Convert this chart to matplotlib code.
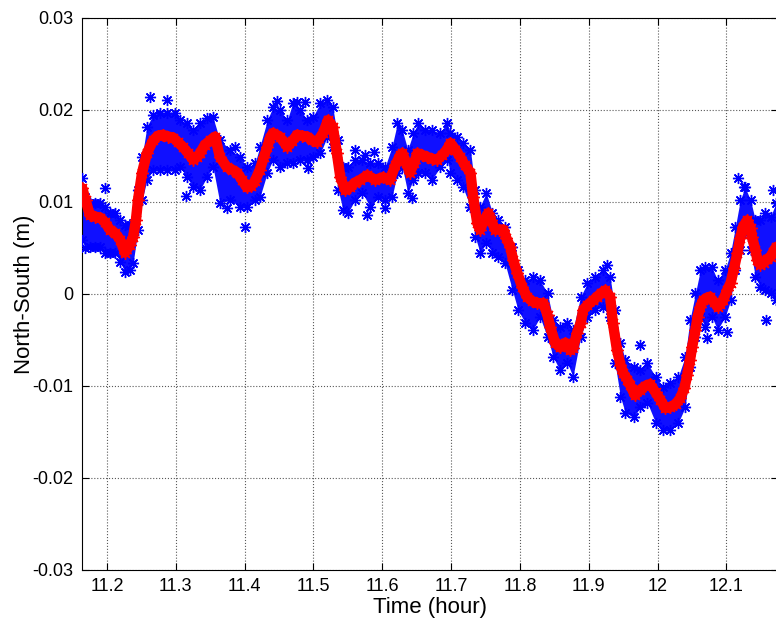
import numpy as np
import matplotlib
matplotlib.use('Agg')
from matplotlib import pyplot as plt

# smoothed north-south series (red), hours / metres
t_red = [11.164, 11.169, 11.175, 11.183, 11.190, 11.197, 11.204, 11.212, 11.219, 11.226,
         11.233, 11.238, 11.242, 11.245, 11.251, 11.258, 11.267, 11.274, 11.281, 11.289,
         11.296, 11.303, 11.310, 11.318, 11.325, 11.331, 11.335, 11.342, 11.350, 11.357,
         11.364, 11.374, 11.382, 11.389, 11.396, 11.403, 11.409, 11.415, 11.422, 11.428,
         11.433, 11.437, 11.441, 11.451, 11.462, 11.469, 11.476, 11.483, 11.491, 11.498,
         11.505, 11.514, 11.521, 11.528, 11.534, 11.539, 11.546, 11.553, 11.560, 11.568,
         11.578, 11.590, 11.601, 11.611, 11.619, 11.626, 11.629, 11.635, 11.640, 11.646,
         11.651, 11.658, 11.665, 11.672, 11.680, 11.687, 11.694, 11.699, 11.706, 11.713,
         11.720, 11.728, 11.732, 11.738, 11.742, 11.748, 11.754, 11.758, 11.764, 11.770,
         11.776, 11.780, 11.786, 11.790, 11.796, 11.803, 11.810, 11.818, 11.825, 11.834,
         11.840, 11.844, 11.851, 11.858, 11.866, 11.873, 11.877, 11.883, 11.888, 11.892,
         11.898, 11.906, 11.912, 11.918, 11.924, 11.931, 11.935, 11.941, 11.946, 11.950,
         11.956, 11.960, 11.967, 11.975, 11.982, 11.989, 11.997, 12.004, 12.011, 12.018,
         12.026, 12.033, 12.039, 12.043, 12.047, 12.050, 12.055, 12.058, 12.062, 12.066,
         12.072, 12.076, 12.082, 12.087, 12.091, 12.095, 12.101, 12.106, 12.111, 12.116,
         12.120, 12.124, 12.130, 12.135, 12.137, 12.142, 12.145, 12.149, 12.154, 12.159,
         12.164, 12.168, 12.172]
ns_red = [0.0115, 0.0102, 0.0086, 0.0084, 0.0083, 0.0078, 0.0070, 0.0066, 0.0059, 0.0045,
          0.0053, 0.0062, 0.0080, 0.0102, 0.0132, 0.0153, 0.0167, 0.0172, 0.0173, 0.0171,
          0.0170, 0.0165, 0.0160, 0.0153, 0.0146, 0.0149, 0.0153, 0.0162, 0.0167, 0.0171,
          0.0149, 0.0138, 0.0135, 0.0132, 0.0124, 0.0116, 0.0117, 0.0123, 0.0135, 0.0149,
          0.0160, 0.0170, 0.0175, 0.0171, 0.0160, 0.0166, 0.0173, 0.0172, 0.0171, 0.0167,
          0.0165, 0.0175, 0.0189, 0.0182, 0.0153, 0.0127, 0.0113, 0.0116, 0.0121, 0.0124,
          0.0129, 0.0124, 0.0127, 0.0124, 0.0140, 0.0151, 0.0153, 0.0142, 0.0132, 0.0142,
          0.0153, 0.0151, 0.0149, 0.0147, 0.0146, 0.0151, 0.0157, 0.0164, 0.0157, 0.0149,
          0.0140, 0.0132, 0.0105, 0.0077, 0.0070, 0.0080, 0.0088, 0.0080, 0.0070, 0.0070,
          0.0070, 0.0061, 0.0051, 0.0037, 0.0023, 0.0008, -0.0003, -0.0008, -0.0010, -0.0010,
          -0.0023, -0.0036, -0.0053, -0.0058, -0.0053, -0.0061, -0.0059, -0.0042, -0.0032, -0.0017,
          -0.0012, -0.0007, -0.0003, 0.0001, 0.0004, -0.0003, -0.0032, -0.0061, -0.0077, -0.0086,
          -0.0093, -0.0099, -0.0110, -0.0104, -0.0100, -0.0098, -0.0107, -0.0115, -0.0124, -0.0123,
          -0.0120, -0.0113, -0.0102, -0.0088, -0.0072, -0.0058, -0.0039, -0.0025, -0.0014, -0.0007,
          -0.0004, -0.0003, -0.0009, -0.0014, -0.0011, -0.0007, 0.0004, 0.0012, 0.0028, 0.0045,
          0.0061, 0.0073, 0.0080, 0.0072, 0.0062, 0.0048, 0.0037, 0.0032, 0.0034, 0.0038,
          0.0040, 0.0046, 0.0051]

# raw solutions (blue): upper and lower edge of the scatter band
t_blue = [11.164, 11.168, 11.175, 11.183, 11.190, 11.197, 11.204, 11.212, 11.219, 11.226,
          11.233, 11.238, 11.245, 11.251, 11.258, 11.267, 11.277, 11.287, 11.299, 11.306,
          11.316, 11.325, 11.335, 11.345, 11.354, 11.364, 11.379, 11.393, 11.403, 11.415,
          11.422, 11.433, 11.441, 11.451, 11.462, 11.470, 11.481, 11.491, 11.499, 11.510,
          11.520, 11.528, 11.536, 11.543, 11.550, 11.560, 11.571, 11.582, 11.594, 11.604,
          11.614, 11.622, 11.629, 11.637, 11.645, 11.652, 11.662, 11.672, 11.684, 11.694,
          11.699, 11.709, 11.717, 11.728, 11.735, 11.742, 11.751, 11.760, 11.768, 11.778,
          11.789, 11.797, 11.808, 11.819, 11.829, 11.840, 11.848, 11.858, 11.869, 11.877,
          11.888, 11.898, 11.909, 11.921, 11.931, 11.938, 11.946, 11.953, 11.965, 11.975,
          11.985, 11.997, 12.008, 12.018, 12.030, 12.040, 12.047, 12.055, 12.062, 12.069,
          12.079, 12.087, 12.098, 12.106, 12.113, 12.120, 12.127, 12.135, 12.142, 12.149,
          12.156, 12.164, 12.172]
ns_hi = [0.0126, 0.0105, 0.0099, 0.0099, 0.0099, 0.0095, 0.0088, 0.0088, 0.0080, 0.0075,
         0.0075, 0.0077, 0.0113, 0.0149, 0.0182, 0.0195, 0.0197, 0.0197, 0.0197, 0.0189,
         0.0186, 0.0178, 0.0186, 0.0191, 0.0192, 0.0167, 0.0157, 0.0149, 0.0138, 0.0142,
         0.0160, 0.0189, 0.0203, 0.0200, 0.0189, 0.0208, 0.0200, 0.0189, 0.0192, 0.0208,
         0.0211, 0.0203, 0.0167, 0.0138, 0.0138, 0.0146, 0.0146, 0.0142, 0.0142, 0.0138,
         0.0160, 0.0186, 0.0178, 0.0157, 0.0175, 0.0186, 0.0178, 0.0178, 0.0175, 0.0186,
         0.0175, 0.0171, 0.0164, 0.0157, 0.0113, 0.0095, 0.0110, 0.0088, 0.0080, 0.0073,
         0.0051, 0.0026, 0.0015, 0.0018, 0.0015, 0.0001, -0.0028, -0.0036, -0.0032, -0.0039,
         -0.0003, 0.0012, 0.0018, 0.0026, 0.0018, -0.0017, -0.0053, -0.0072, -0.0079, -0.0083,
         -0.0075, -0.0090, -0.0101, -0.0097, -0.0090, -0.0068, -0.0028, 0.0001, 0.0026, 0.0029,
         0.0029, 0.0015, 0.0026, 0.0045, 0.0073, 0.0102, 0.0116, 0.0102, 0.0080, 0.0080,
         0.0088, 0.0084, 0.0099]
ns_lo = [0.0059, 0.0050, 0.0051, 0.0051, 0.0051, 0.0045, 0.0045, 0.0045, 0.0035, 0.0024,
         0.0026, 0.0034, 0.0070, 0.0102, 0.0124, 0.0135, 0.0135, 0.0135, 0.0135, 0.0138,
         0.0127, 0.0116, 0.0113, 0.0127, 0.0138, 0.0099, 0.0102, 0.0095, 0.0095, 0.0102,
         0.0105, 0.0132, 0.0146, 0.0138, 0.0142, 0.0142, 0.0146, 0.0146, 0.0149, 0.0153,
         0.0171, 0.0160, 0.0113, 0.0091, 0.0088, 0.0102, 0.0110, 0.0095, 0.0105, 0.0102,
         0.0105, 0.0132, 0.0138, 0.0110, 0.0124, 0.0132, 0.0132, 0.0124, 0.0138, 0.0146,
         0.0132, 0.0124, 0.0116, 0.0095, 0.0062, 0.0045, 0.0055, 0.0045, 0.0040, 0.0034,
         0.0004, -0.0017, -0.0032, -0.0039, -0.0025, -0.0047, -0.0068, -0.0083, -0.0075, -0.0090,
         -0.0047, -0.0025, -0.0017, -0.0014, -0.0025, -0.0075, -0.0112, -0.0129, -0.0134, -0.0123,
         -0.0118, -0.0140, -0.0148, -0.0148, -0.0140, -0.0123, -0.0079, -0.0047, -0.0025, -0.0036,
         -0.0025, -0.0039, -0.0025, -0.0007, 0.0026, 0.0048, 0.0066, 0.0048, 0.0018, 0.0008,
         0.0004, 0.0001, -0.0007]

# isolated blue points away from the band
t_out = [11.197, 11.263, 11.287, 11.315, 11.374, 11.386, 11.401, 11.447, 11.476, 11.488,
         11.492, 11.560, 11.575, 11.588, 11.578, 11.604, 11.643, 11.927, 11.975, 12.072,
         12.101, 12.117, 12.126, 12.158, 12.168]
ns_out = [0.0115, 0.0214, 0.0211, 0.0107, 0.0093, 0.0160, 0.0073, 0.0210, 0.0209, 0.0209,
          0.0137, 0.0157, 0.0151, 0.0154, 0.0086, 0.0093, 0.0104, 0.0032, -0.0055, -0.0048,
          -0.0041, 0.0126, 0.0116, -0.0028, 0.0113]

x_ticks = [11.2, 11.3, 11.4, 11.5, 11.6, 11.7, 11.8, 11.9, 12.0, 12.1]
x_labels = ['11.2', '11.3', '11.4', '11.5', '11.6', '11.7', '11.8', '11.9', '12', '12.1']
y_ticks = [-0.03, -0.02, -0.01, 0, 0.01, 0.02, 0.03]
y_labels = ['-0.03', '-0.02', '-0.01', '0', '0.01', '0.02', '0.03']

plt.rcParams['font.family'] = ['Liberation Sans', 'DejaVu Sans']

fig = plt.figure(figsize=(7.76, 6.18), dpi=100)
ax = fig.add_axes([0.1057, 0.0777, 0.897, 0.8932])

star = (8, 2, 0)  # matlab-like asterisk
ax.fill_between(t_blue, ns_lo, ns_hi, color='#1010ff', lw=0, zorder=2)
ax.plot(t_blue, ns_hi, ls='none', marker=star, ms=8, mew=1, color='blue', zorder=3)
ax.plot(t_blue, ns_lo, ls='none', marker=star, ms=8, mew=1, color='blue', zorder=3)
ax.plot(t_out, ns_out, ls='none', marker=star, ms=8, mew=1, color='blue', zorder=3)

ax.plot(t_red, ns_red, '-', color='red', lw=7.5, solid_capstyle='round', zorder=4)
ax.plot(t_red, ns_red, ls='none', marker=star, ms=9, mew=1, color='red', zorder=4)

ax.set_xlim(11.1637, 12.175)
ax.set_ylim(-0.03, 0.03)
ax.set_xticks(x_ticks)
ax.set_xticklabels(x_labels)
ax.set_yticks(y_ticks)
ax.set_yticklabels(y_labels)
ax.tick_params(direction='in', top=True, right=True, length=5, width=0.8,
               labelsize=13, pad=6)
ax.grid(True, ls=':', color='0.35', lw=0.8)
ax.set_axisbelow(True)
for s in ax.spines.values():
    s.set_linewidth(0.8)

ax.set_xlabel('Time (hour)', fontsize=16, labelpad=1)
ax.set_ylabel('North-South (m)', fontsize=16, labelpad=-2)

fig.savefig('out.png', dpi=100)
